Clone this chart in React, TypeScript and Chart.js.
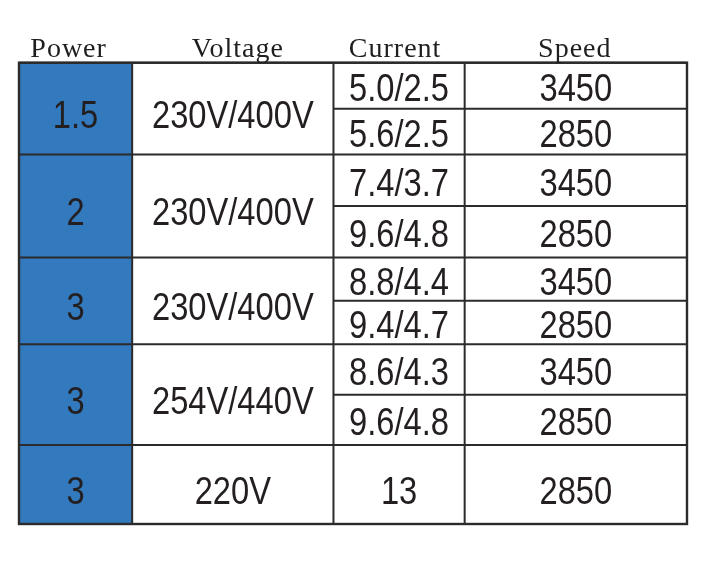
import React, { useEffect, useRef } from "react";
import { Chart, registerables } from "chart.js";

Chart.register(...registerables);

// ---- data ----
const headers = ["Power", "Voltage", "Current", "Speed"];
const powers = ["1.5", "2", "3", "3", "3"];
const voltages = ["230V/400V", "230V/400V", "230V/400V", "254V/440V", "220V"];
const currents = [
  ["5.0/2.5", "5.6/2.5"],
  ["7.4/3.7", "9.6/4.8"],
  ["8.8/4.4", "9.4/4.7"],
  ["8.6/4.3", "9.6/4.8"],
  ["13"],
];
const speeds = [
  ["3450", "2850"],
  ["3450", "2850"],
  ["3450", "2850"],
  ["3450", "2850"],
  ["2850"],
];

// ---- layout (table units) ----
const colWidths = [113, 201, 131, 222];
const groupHeights = [92, 103, 87, 101, 79];
const headerShift = [-7, 5, -4, -1];

const BLUE = "#3379BE";
const LINE = "#2b2b2b";
const BODY_FONT = '38px "Liberation Sans", Arial, sans-serif';
const BODY_SQUEEZE = 0.86;
const HEAD_FONT = '28px "Liberation Serif", "DejaVu Serif", serif';

function cumul(a: number[]) {
  const out = [0];
  a.forEach((v) => out.push(out[out.length - 1] + v));
  return out;
}

const tablePlugin = {
  id: "tablePlugin",
  afterDraw(chart: any) {
    const { ctx, scales } = chart;
    const xs = scales.x;
    const ys = scales.y;
    const colE = cumul(colWidths).map((v) => xs.getPixelForValue(v));
    const rowE = cumul(groupHeights).map((v) => ys.getPixelForValue(v));
    const top = rowE[0];
    const bottom = rowE[rowE.length - 1];
    const left = colE[0];
    const right = colE[colE.length - 1];

    ctx.save();
    // blue power column
    ctx.fillStyle = BLUE;
    ctx.fillRect(colE[0], top, colE[1] - colE[0], bottom - top);

    ctx.strokeStyle = LINE;
    ctx.lineWidth = 2;
    const line = (x1: number, y1: number, x2: number, y2: number) => {
      ctx.beginPath();
      ctx.moveTo(x1, y1);
      ctx.lineTo(x2, y2);
      ctx.stroke();
    };
    colE.forEach((x) => line(x, top, x, bottom));
    rowE.forEach((y) => line(left, y, right, y));
    currents.forEach((c, g) => {
      const n = c.length;
      for (let k = 1; k < n; k++) {
        const y = rowE[g] + ((rowE[g + 1] - rowE[g]) * k) / n;
        line(colE[2], y, colE[4], y);
      }
    });
    ctx.lineWidth = 2.4;
    ctx.strokeRect(left, top, right - left, bottom - top);

    // header text
    ctx.fillStyle = "#1e1e1e";
    ctx.font = HEAD_FONT;
    ctx.textAlign = "center";
    ctx.textBaseline = "alphabetic";
    try {
      (ctx as any).letterSpacing = "1px";
    } catch (e) {}
    headers.forEach((h, i) => {
      const cx = (colE[i] + colE[i + 1]) / 2 + headerShift[i];
      ctx.fillText(h, cx, top - 6);
    });
    try {
      (ctx as any).letterSpacing = "0px";
    } catch (e) {}

    // body text
    ctx.font = BODY_FONT;
    ctx.fillStyle = "#231f20";
    ctx.textBaseline = "alphabetic";
    const m = ctx.measureText("0");
    const digitH = m.actualBoundingBoxAscent;
    const drawCell = (txt: string, c: number, y0: number, y1: number, off: number) => {
      const cx = (colE[c] + colE[c + 1]) / 2;
      const cy = (y0 + y1) / 2 + off;
      ctx.save();
      ctx.translate(cx, cy + digitH / 2);
      ctx.scale(BODY_SQUEEZE, 1);
      ctx.fillText(txt, 0, 0);
      ctx.restore();
    };
    for (let g = 0; g < groupHeights.length; g++) {
      const y0 = rowE[g];
      const y1 = rowE[g + 1];
      drawCell(powers[g], 0, y0, y1, 6);
      drawCell(voltages[g], 1, y0, y1, 6);
      const n = currents[g].length;
      for (let k = 0; k < n; k++) {
        const a = y0 + ((y1 - y0) * k) / n;
        const b = y0 + ((y1 - y0) * (k + 1)) / n;
        const off = n === 1 ? 6 : 2;
        drawCell(currents[g][k], 2, a, b, off);
        drawCell(speeds[g][k], 3, a, b, off);
      }
    }
    ctx.restore();
  },
};

export default function App() {
  const ref = useRef<HTMLCanvasElement>(null);
  useEffect(() => {
    if (!ref.current) return;
    const chart = new Chart(ref.current, {
      type: "scatter",
      data: { datasets: [] },
      options: {
        animation: false,
        responsive: false,
        devicePixelRatio: window.devicePixelRatio || 1,
        layout: { padding: { left: 19, right: 41, top: 62.7, bottom: 52 } },
        plugins: { legend: { display: false }, tooltip: { enabled: false } },
        scales: {
          x: { type: "linear", display: false, min: 0, max: colWidths.reduce((a, b) => a + b, 0) },
          y: {
            type: "linear",
            display: false,
            reverse: true,
            min: 0,
            max: groupHeights.reduce((a, b) => a + b, 0),
          },
        },
      },
      plugins: [tablePlugin],
    });
    return () => chart.destroy();
  }, []);
  return (
    <div style={{ position: "fixed", left: 0, top: 0, width: 728, height: 576, background: "#fff" }}>
      <canvas ref={ref} width={728} height={576} style={{ width: 728, height: 576, display: "block" }} />
    </div>
  );
}
